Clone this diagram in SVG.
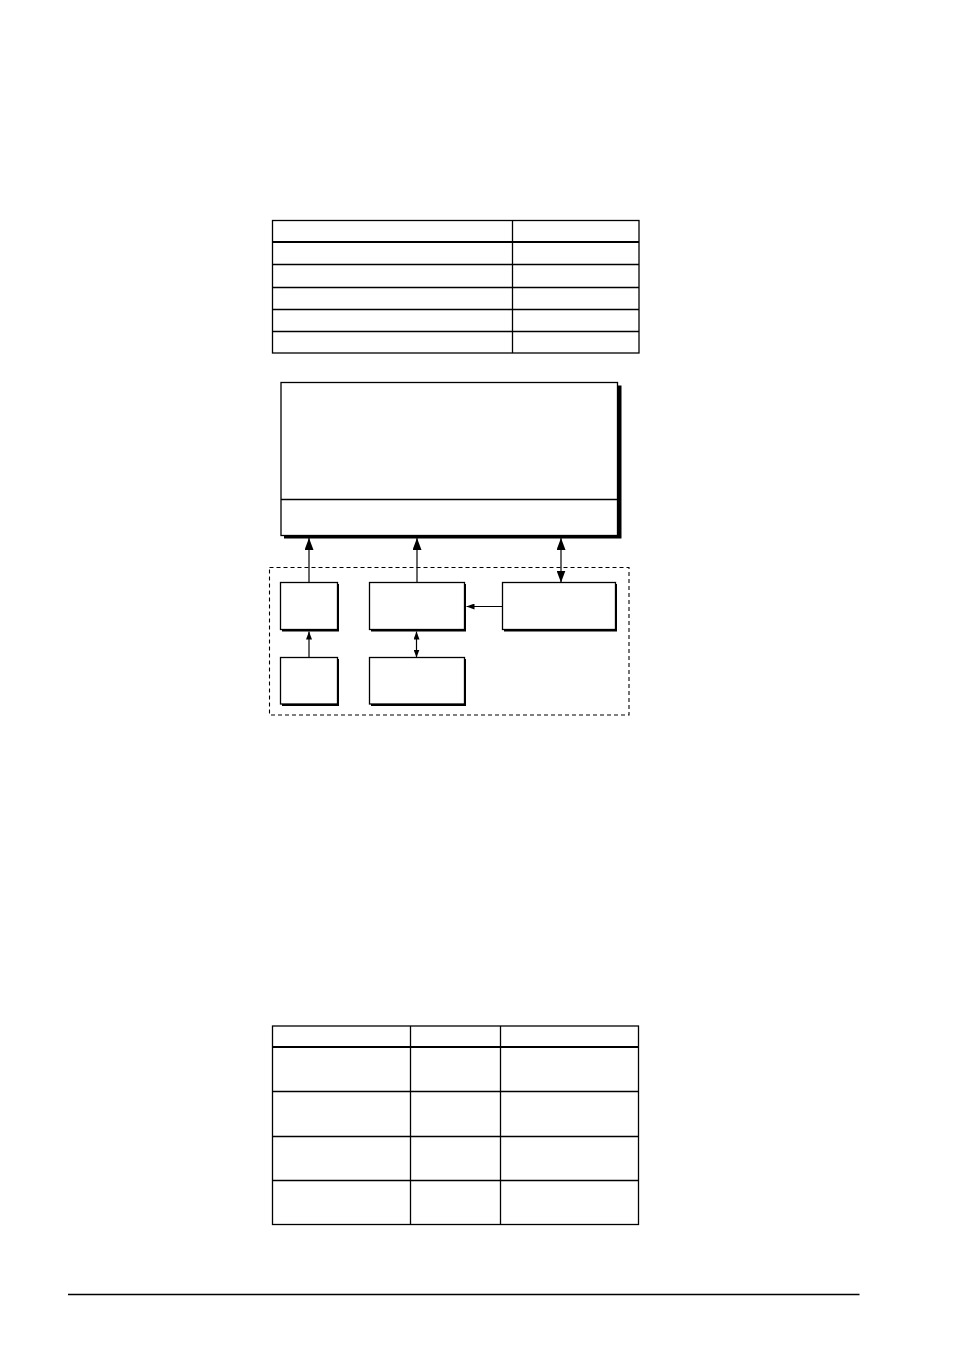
<svg xmlns="http://www.w3.org/2000/svg" width="954" height="1346" viewBox="0 0 954 1346">
<style>
.ln{stroke:#000;stroke-width:1.3;fill:none}
.thick{stroke:#000;stroke-width:2.2;fill:none}
.box{fill:#fff;stroke:#000;stroke-width:1.3}
.shadow{fill:#000}
.conn{stroke:#000;stroke-width:1.2;fill:none}
</style>
<defs>
<marker id="big" viewBox="0 0 12 9" refX="12" refY="4.5" markerWidth="12" markerHeight="9" markerUnits="userSpaceOnUse" orient="auto-start-reverse">
<path d="M0,0 L12,4.5 L0,9 Z" fill="#000"/>
</marker>
<marker id="small" viewBox="0 0 8 6" refX="8" refY="3" markerWidth="8" markerHeight="6" markerUnits="userSpaceOnUse" orient="auto-start-reverse">
<path d="M0,0 L8,3 L0,6 Z" fill="#000"/>
</marker>
</defs>
<rect width="954" height="1346" fill="#fff"/>

<g id="table1">
<rect x="272.5" y="220.5" width="366.5" height="132.5" class="ln"/>
<line x1="512.5" y1="220.5" x2="512.5" y2="353" class="ln"/>
<line x1="272.5" y1="242" x2="639" y2="242" class="thick"/>
<line x1="272.5" y1="264.5" x2="639" y2="264.5" class="ln"/>
<line x1="272.5" y1="287.5" x2="639" y2="287.5" class="ln"/>
<line x1="272.5" y1="309.5" x2="639" y2="309.5" class="ln"/>
<line x1="272.5" y1="331.5" x2="639" y2="331.5" class="ln"/>
</g>

<g id="main">
<rect x="284" y="385.5" width="337.5" height="153" class="shadow"/>
<rect x="281" y="382.5" width="336.5" height="153" class="box"/>
<line x1="281" y1="499.5" x2="617.5" y2="499.5" class="ln"/>
</g>

<g id="group">
<rect x="269.5" y="567.5" width="359.5" height="147.5" fill="none" stroke="#000" stroke-width="1.1" stroke-dasharray="4,3"/>
</g>

<g id="nodeA">
<rect x="282" y="584" width="57" height="47.5" class="shadow"/>
<rect x="280.5" y="582.5" width="57" height="47" class="box"/>
</g>
<g id="nodeB">
<rect x="371" y="584" width="95" height="47.5" class="shadow"/>
<rect x="369.5" y="582.5" width="95" height="47" class="box"/>
</g>
<g id="nodeC">
<rect x="504" y="584" width="113" height="47.5" class="shadow"/>
<rect x="502.5" y="582.5" width="113" height="47" class="box"/>
</g>
<g id="nodeD">
<rect x="282" y="659" width="57" height="47" class="shadow"/>
<rect x="280.5" y="657.5" width="57" height="46.5" class="box"/>
</g>
<g id="nodeE">
<rect x="371" y="659" width="95" height="47" class="shadow"/>
<rect x="369.5" y="657.5" width="95" height="46.5" class="box"/>
</g>

<g id="connectors">
<line x1="309" y1="582.5" x2="309" y2="538" class="conn" marker-end="url(#big)"/>
<line x1="417" y1="582.5" x2="417" y2="538" class="conn" marker-end="url(#big)"/>
<line x1="561" y1="538" x2="561" y2="582.5" class="conn" marker-start="url(#big)" marker-end="url(#big)"/>
<line x1="502.5" y1="606.5" x2="466.5" y2="606.5" class="conn" marker-end="url(#small)"/>
<line x1="309" y1="657.5" x2="309" y2="631.5" class="conn" marker-end="url(#small)"/>
<line x1="416.5" y1="631.5" x2="416.5" y2="657.5" class="conn" marker-start="url(#small)" marker-end="url(#small)"/>
</g>

<g id="table2">
<rect x="272.5" y="1026" width="366" height="198.5" class="ln"/>
<line x1="410.5" y1="1026" x2="410.5" y2="1224.5" class="ln"/>
<line x1="500.5" y1="1026" x2="500.5" y2="1224.5" class="ln"/>
<line x1="272.5" y1="1047" x2="638.5" y2="1047" class="thick"/>
<line x1="272.5" y1="1091.5" x2="638.5" y2="1091.5" class="ln"/>
<line x1="272.5" y1="1136.5" x2="638.5" y2="1136.5" class="ln"/>
<line x1="272.5" y1="1180.5" x2="638.5" y2="1180.5" class="ln"/>
</g>

<g id="footer">
<line x1="68" y1="1294.5" x2="859.5" y2="1294.5" class="ln"/>
</g>
</svg>
